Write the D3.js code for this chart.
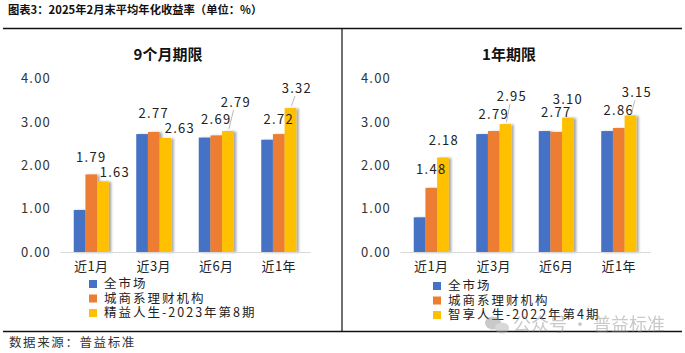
<!DOCTYPE html>
<html><head><meta charset="utf-8">
<script src="https://cdn.jsdelivr.net/npm/d3@7/dist/d3.min.js"></script>
<style>
body{margin:0;background:#fff;}
text{font-family:"Noto Sans CJK SC","Noto Sans",sans-serif;}
</style></head>
<body><svg id="c" width="685" height="353"></svg>
<script>
const categories = ["近1月","近3月","近6月","近1年"];
const seriesNames = ["全市场","城商系理财机构"];
const leftProduct = "精益人生-2023年第8期";
const rightProduct = "智享人生-2022年第4期";
const leftMarket = [0.97, 2.72, 2.64, 2.59];
const leftCity   = [1.79, 2.77, 2.69, 2.72];
const leftProd   = [1.63, 2.63, 2.79, 3.32];
const rightMarket = [0.80, 2.72, 2.79, 2.79];
const rightCity   = [1.48, 2.79, 2.77, 2.86];
const rightProd   = [2.18, 2.95, 3.10, 3.15];
const yTicks = [0, 1, 2, 3, 4];

const colors = ["#4472C4","#ED7D31","#FFC000"];
// label offsets [dx, dy(center above bar top), leader]
const leftOff = {
  1: [[0,17],[0,18],[0,16],[0,15]],
  2: [[12,9,false],[14.5,10,false],[8,29,true],[6.5,20,true]]
};
const rightOff = {
  1: [[0,18],[0,17],[0,19],[0,18]],
  2: [[1,17,false],[6.5,28,true],[0,18,false],[6.5,23,true]]
};

const svg = d3.select("#c");
const defs = svg.append("defs");
const f = defs.append("filter").attr("id","sh").attr("x","-30%").attr("y","-10%").attr("width","180%").attr("height","130%");
f.append("feDropShadow").attr("dx",2.5).attr("dy",0.5).attr("stdDeviation",1.3).attr("flood-color","#000").attr("flood-opacity",0.35);

// header
svg.append("text").attr("x",8).attr("y",14).attr("font-size",11.3).attr("font-weight","bold").attr("fill","#111")
  .text("图表3：2025年2月末平均年化收益率（单位：%）");
svg.append("line").attr("x1",3).attr("x2",682).attr("y1",28.5).attr("y2",28.5).attr("stroke","#111").attr("stroke-width",1.5);
svg.append("line").attr("x1",342).attr("x2",342).attr("y1",28).attr("y2",332).attr("stroke","#111").attr("stroke-width",1.2);
svg.append("line").attr("x1",3).attr("x2",682).attr("y1",331.5).attr("y2",331.5).attr("stroke","#111").attr("stroke-width",1.5);
svg.append("text").attr("x",9).attr("y",347).attr("font-size",12.5).attr("letter-spacing",1.6).attr("fill","#333")
  .text("数据来源：普益标准");

function panel(x0, title, titleX, series, prodName, off, legX, legY) {
  const g = svg.append("g");
  const x = d3.scaleBand().domain(categories).range([x0, x0+250]).paddingInner(0.44).paddingOuter(0.22);
  const y = d3.scaleLinear().domain([0,4]).range([252, 78.6]);
  const xs = d3.scaleBand().domain([0,1,2]).range([0, x.bandwidth()]);

  g.append("text").attr("x",titleX).attr("y",60).attr("text-anchor","middle").attr("font-size",15).attr("font-weight","bold").attr("fill","#111").text(title);

  const ya = d3.axisLeft(y).tickValues(yTicks).tickFormat(d3.format(".2f")).tickSize(0);
  const yg = g.append("g").attr("transform",`translate(${x0-6},0)`).call(ya);
  yg.select(".domain").remove();
  yg.selectAll("text").attr("font-size",13).attr("letter-spacing",1.2).attr("fill","#333").attr("dx",0);

  // bars
  series.forEach((vals, si) => {
    g.append("g").selectAll("rect").data(vals).join("rect")
      .attr("x",(d,i)=>x(categories[i])+xs(si)).attr("width",xs.bandwidth())
      .attr("y",d=>y(d)).attr("height",d=>y(0)-y(d))
      .attr("fill",colors[si]).attr("filter","url(#sh)");
  });

  const xa = d3.axisBottom(x).tickSize(0).tickPadding(10);
  const xg = g.append("g").attr("transform","translate(0,252)").call(xa);
  xg.select(".domain").attr("stroke","#d9d9d9").attr("stroke-width",1.2);
  xg.selectAll("text").attr("font-size",13).attr("fill","#222").attr("letter-spacing",0.5);

  // labels
  [1,2].forEach(si => {
    series[si].forEach((v,i) => {
      const bx = x(categories[i]) + xs(si) + xs.bandwidth()/2;
      const top = y(v);
      const o = off[si][i];
      const lx = bx + o[0], ly = top - o[1];
      g.append("text").attr("x",lx).attr("y",ly).attr("dy","0.35em").attr("text-anchor","middle")
        .attr("font-size",13).attr("letter-spacing",1.3).attr("fill","#222").text(v.toFixed(2));
      if (o[2]) {
        g.append("line").attr("x1",bx+1).attr("y1",top-2).attr("x2",bx+o[0]*0.7).attr("y2",ly+8)
          .attr("stroke","#a6a6a6").attr("stroke-width",0.8);
      }
    });
  });

  // legend
  const names = seriesNames.concat([prodName]);
  names.forEach((n,i) => {
    g.append("rect").attr("x",legX).attr("y",legY+i*14.5-4).attr("width",8).attr("height",8).attr("fill",colors[i]);
    g.append("text").attr("x",legX+15).attr("y",legY+i*14.5).attr("dy","0.35em").attr("font-size",12.5)
      .attr("letter-spacing",2).attr("fill","#222").text(n);
  });
}

panel(60, "9个月期限", 168, [leftMarket,leftCity,leftProd], leftProduct, leftOff, 89, 284);
panel(400, "1年期限", 509, [rightMarket,rightCity,rightProd], rightProduct, rightOff, 433, 286);

// watermark
const wm = svg.append("g").attr("opacity",0.45);
wm.append("ellipse").attr("cx",493).attr("cy",323).attr("rx",8).attr("ry",6.5).attr("fill","#888");
wm.append("ellipse").attr("cx",502).attr("cy",328).attr("rx",7).attr("ry",5.5).attr("fill","#aaa");
wm.append("text").attr("x",513).attr("y",331).attr("font-size",18).attr("fill","#888").text("公众号 · 普益标准");
</script></body></html>
